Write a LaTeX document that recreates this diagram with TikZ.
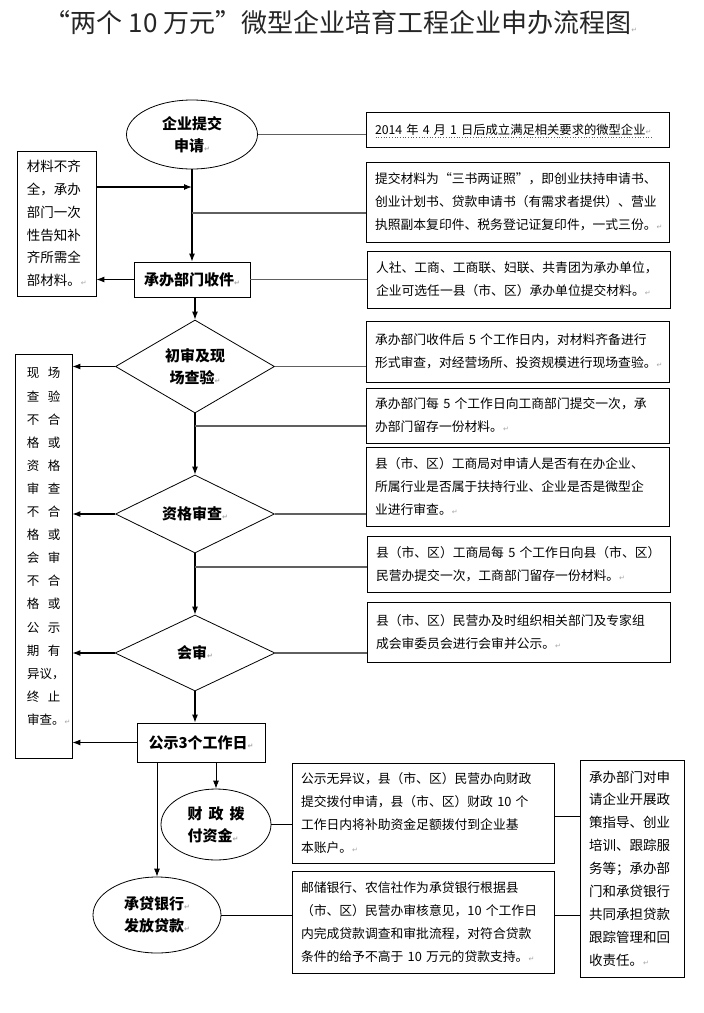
\documentclass[tikz,border=0pt]{standalone}
\usepackage{fontspec}
\setmainfont{Noto Sans CJK SC}
\newfontfamily\dejavu{DejaVu Sans}
\usetikzlibrary{shapes.geometric,arrows.meta}
\newcommand\pmk{{\color{gray!70}\dejavu\fontsize{7}{7}\selectfont ↵}}
\newcommand\twoch[2]{\makebox[12pt][c]{#1}\hspace{9pt}\makebox[12pt][c]{#2}}
\begin{document}
\begin{tikzpicture}[x=1pt,y=-1pt,
  box/.style={draw, line width=0.8pt, rectangle, inner xsep=9pt, inner ysep=2pt, align=left, text width=285pt, minimum width=303pt, font=\fontsize{12.8}{23}\selectfont},
  lbl/.style={font=\bfseries\fontsize{15}{22}\selectfont, align=center},
  ell/.style={draw, ellipse, line width=0.8pt, inner sep=0pt},
  dia/.style={draw, diamond, line width=0.8pt, inner sep=0pt, aspect=1.8},
  rbox/.style={draw, line width=0.8pt, inner sep=0pt},
  arr/.style={-{Latex[length=8pt,width=6pt]}, line width=1.1pt},
  tarr/.style={-{Latex[length=8pt,width=6pt]}, line width=0.8pt},
  gline/.style={draw=gray!75!black, line width=1.6pt},
  tline/.style={line width=0.8pt}]
\fill[white] (0,0) rectangle (704,1013);
\useasboundingbox (0,0) rectangle (704,1013);

\node[font=\fontsize{26}{26}\selectfont, text=black!85] (title) at (341,23) {“两个 10 万元”微型企业培育工程企业申办流程图\pmk};

% main column
\node[ell, lbl, minimum width=131pt, minimum height=69pt] (e1) at (192,134.5) {企业提交\\申请\pmk};
\node[rbox, lbl, minimum width=116pt, minimum height=35pt] (r1) at (192,279.5) {承办部门收件\pmk};
\node[dia, lbl, minimum width=159pt, minimum height=93pt] (d1) at (195,366.5) {初审及现\\场查验\pmk};
\node[dia, lbl, aspect=2, minimum width=159pt, minimum height=78pt] (d2) at (195,514) {资格审查\pmk};
\node[dia, lbl, aspect=2, minimum width=160pt, minimum height=76pt] (d3) at (195,653) {会审\pmk};
\node[rbox, lbl, minimum width=128pt, minimum height=39pt] (gs) at (201,742.5) {公示3个工作日\pmk};
\node[ell, lbl, align=left, minimum width=110pt, minimum height=71pt] (e2) at (216,824.5) {财\hspace{6pt}政\hspace{6pt}拨\\付资金\pmk};
\node[ell, lbl, align=left, minimum width=128pt, minimum height=76pt] (e3) at (157,915) {承贷银行\pmk\\发放贷款\pmk};

% left boxes
\node[draw, line width=0.8pt, minimum width=79pt, minimum height=145pt, text width=59pt, inner xsep=10pt, align=left, font=\fontsize{13.5}{22.8}\selectfont] (L1) at (56.5,223.5) {材料不齐\\全，承办\\部门一次\\性告知补\\齐所需全\\部材料。\pmk};
\node[draw, line width=0.8pt, minimum width=57pt, minimum height=404pt] (L2) at (43.5,556) {};
\node[anchor=west, inner sep=0pt, align=left, font=\fontsize{12.5}{23.1}\selectfont] (L2t) at (27,546.5) {\twoch{现}{场}\\\twoch{查}{验}\\\twoch{不}{合}\\\twoch{格}{或}\\\twoch{资}{格}\\\twoch{审}{查}\\\twoch{不}{合}\\\twoch{格}{或}\\\twoch{会}{审}\\\twoch{不}{合}\\\twoch{格}{或}\\\twoch{公}{示}\\\twoch{期}{有}\\异议，\\\twoch{终}{止}\\审查。\pmk};

% right boxes
\node[box, minimum height=35pt, font=\fontsize{12.3}{23}\selectfont] (bA) at (517.5,129.5) {\mbox{2014 年 4 月 1 日后成立满足相关要求的微型企业\pmk}};
\node[box, minimum height=80pt] (bB) at (517.5,202) {提交材料为“三书两证照”，即创业扶持申请书、\\创业计划书、贷款申请书（有需求者提供）、营业\\执照副本复印件、税务登记证复印件，一式三份。\pmk};
\node[box, minimum height=57pt] (bC) at (518.5,279.5) {人社、工商、工商联、妇联、共青团为承办单位，\\企业可选任一县（市、区）承办单位提交材料。\pmk};
\node[box, minimum height=61pt] (bD) at (517.5,351.5) {承办部门收件后 5 个工作日内，对材料齐备进行\\形式审查，对经营场所、投资规模进行现场查验。\pmk};
\node[box, minimum height=55pt] (bE) at (517.5,415.5) {承办部门每 5 个工作日向工商部门提交一次，承\\办部门留存一份材料。\pmk};
\node[box, minimum height=79pt] (bF) at (517.5,486.5) {县（市、区）工商局对申请人是否有在办企业、\\所属行业是否属于扶持行业、企业是否是微型企\\业进行审查。\pmk};
\node[box, minimum height=56pt] (bG) at (518.5,564) {县（市、区）工商局每 5 个工作日向县（市、区）\\民营办提交一次，工商部门留存一份材料。\pmk};
\node[box, minimum height=60pt] (bH) at (518.5,632) {县（市、区）民营办及时组织相关部门及专家组\\成会审委员会进行会审并公示。\pmk};
\node[box, text width=244pt, minimum width=262pt, minimum height=100pt] (bI) at (423,813) {公示无异议，县（市、区）民营办向财政\\提交拨付申请，县（市、区）财政 10 个\\工作日内将补助资金足额拨付到企业基\\本账户。\pmk};
\node[box, text width=244pt, minimum width=262pt, minimum height=102pt] (bJ) at (423,922) {邮储银行、农信社作为承贷银行根据县\\（市、区）民营办审核意见，10 个工作日\\内完成贷款调查和审批流程，对符合贷款\\条件的给予不高于 10 万元的贷款支持。\pmk};
\node[box, text width=86pt, minimum width=104pt, minimum height=217pt, font=\fontsize{13.5}{22.9}\selectfont] (bK) at (632,868.5) {承办部门对申\\请企业开展政\\策指导、创业\\培训、跟踪服\\务等；承办部\\门和承贷银行\\共同承担贷款\\跟踪管理和回\\收责任。\pmk};

\draw[dotted, line width=0.7pt, blue!40!gray] ([xshift=10pt,yshift=-8pt]bA.west) -- ([xshift=-16pt,yshift=-8pt]bA.east);

% junction coordinates on the main line
\coordinate (j1) at (192,187);
\coordinate (j2) at (192,213);
\coordinate (j3) at (195,426);
\coordinate (j4) at (195,567);

% main flow
\draw[arr] (e1.south) -- (r1.north);
\draw[arr] (r1.south -| d1.north) -- (d1.north);
\draw[arr] (d1.south) -- (d2.north);
\draw[arr] (d2.south) -- (d3.north);
\draw[arr] (d3.south) -- (d3.south |- gs.north);
\draw[tarr] (e2.north |- gs.south) -- (e2.north);
\draw[tarr] (e3.north |- gs.south) -- (e3.north);

% left side
\draw[arr] (L1.east |- j1) -- (j1);
\draw[arr] (r1.west) -- (L1.east |- r1.west);
\draw[arr] (d1.west) -- (L2.east |- d1.west);
\draw[arr] (d2.west) -- (L2.east |- d2.west);
\draw[arr] (d3.west) -- (L2.east |- d3.west);
\draw[arr] (gs.west) -- (L2.east |- gs.west);

% right side
\draw[gline] (e1.east) -- (bA.west |- e1.east);
\draw[gline] (j2) -- (bB.west |- j2);
\draw[gline] (r1.east) -- (bC.west |- r1.east);
\draw[gline] (d1.east) -- (bD.west |- d1.east);
\draw[gline] (j3) -- (bE.west |- j3);
\draw[gline] (d2.east) -- (bF.west |- d2.east);
\draw[gline] (j4) -- (bG.west |- j4);
\draw[gline] (d3.east) -- (bH.west |- d3.east);
\draw[tline] (e2.east) -- (bI.west |- e2.east);
\draw[tline] (e3.east) -- (bJ.west |- e3.east);
\draw[tline] (bI.east |- 0,816) -- (bK.west |- 0,816);
\draw[tline] (bJ.east |- e3.east) -- (bK.west |- e3.east);
\end{tikzpicture}
\end{document}
